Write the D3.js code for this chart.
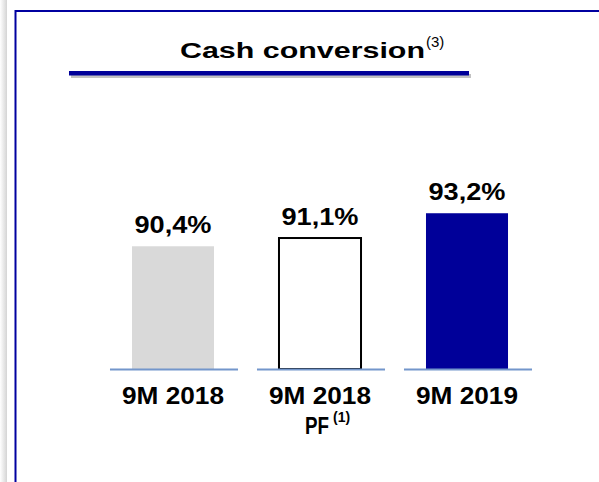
<!DOCTYPE html>
<html>
<head>
<meta charset="utf-8">
<script src="https://cdn.jsdelivr.net/npm/d3@7"></script>
<style>
  body { margin: 0; background: #fff; }
  text { font-family: "Liberation Sans", Arial, sans-serif; }
</style>
</head>
<body>
<svg id="chart" width="599" height="482"></svg>
<script>
// data
const categories = ['9M 2018', '9M 2018 PF', '9M 2019'];
const values = [90.4, 91.1, 93.2];
const valueLabels = ['90,4%', '91,1%', '93,2%'];
const catLines = [['9M 2018'], ['9M 2018', 'PF'], ['9M 2019']];
const catNotes = ['', '(1)', ''];
const fills = ['#d9d9d9', '#ffffff', '#000099'];
const strokes = ['none', '#000000', 'none'];

const svg = d3.select('#chart');
const defs = svg.append('defs');

// grey shadow on the left of the frame
const grad = defs.append('linearGradient').attr('id', 'lshade');
grad.append('stop').attr('offset', '0%').attr('stop-color', '#ffffff');
grad.append('stop').attr('offset', '100%').attr('stop-color', '#d4d4d4');
svg.append('rect').attr('x', 0).attr('y', 0).attr('width', 7).attr('height', 482)
  .attr('fill', 'url(#lshade)');

// frame
svg.append('rect').attr('x', 7).attr('y', 0).attr('width', 592).attr('height', 482).attr('fill', '#fff');
svg.append('path')
  .attr('d', 'M15.5,482 V11 H599')
  .attr('fill', 'none').attr('stroke', '#0000a0').attr('stroke-width', 2);

// title
const title = svg.append('text')
  .attr('x', 180).attr('y', 58)
  .attr('font-size', 22).attr('font-weight', 'bold').attr('fill', '#000');
title.append('tspan').text('Cash conversion')
  .attr('textLength', 245).attr('lengthAdjust', 'spacingAndGlyphs');
title.append('tspan').text('(3)').attr('font-size', 15).attr('font-weight', 'normal')
  .attr('dy', -11).attr('dx', 1);

// title underline with shadow
svg.append('rect').attr('x', 71).attr('y', 74).attr('width', 400).attr('height', 4)
  .attr('fill', '#9a9a9a').attr('opacity', 0.6);
svg.append('rect').attr('x', 69).attr('y', 71).attr('width', 400).attr('height', 4.5)
  .attr('fill', '#000099');

// scales
const x = d3.scaleBand().domain(categories).range([99.5, 540.5])
  .paddingInner(0.442).paddingOuter(0.221);
const y = d3.scaleLinear().domain([80, 95]).range([369, 192]);

const g = svg.append('g');

// bars
g.selectAll('rect.bar').data(categories).enter().append('rect')
  .attr('class', 'bar')
  .attr('x', d => x(d))
  .attr('y', (d, i) => y(values[i]))
  .attr('width', x.bandwidth())
  .attr('height', (d, i) => y(80) - y(values[i]))
  .attr('fill', (d, i) => fills[i])
  .attr('stroke', (d, i) => strokes[i])
  .attr('stroke-width', 2);

// baseline pieces under each bar
g.selectAll('line.base').data(categories).enter().append('line')
  .attr('class', 'base')
  .attr('x1', d => x(d) - 22)
  .attr('x2', d => x(d) + x.bandwidth() + 24)
  .attr('y1', y(80) + 0.5).attr('y2', y(80) + 0.5)
  .attr('stroke', '#7396cb').attr('stroke-width', 2);

// value labels
g.selectAll('text.val').data(categories).enter().append('text')
  .attr('class', 'val')
  .attr('x', d => x(d) + x.bandwidth() / 2)
  .attr('y', (d, i) => y(values[i]) - 13)
  .attr('text-anchor', 'middle')
  .attr('font-size', 23).attr('font-weight', 'bold')
  .attr('textLength', 77).attr('lengthAdjust', 'spacingAndGlyphs')
  .text((d, i) => valueLabels[i]);

// category labels
categories.forEach(function (c, i) {
  const cx = x(c) + x.bandwidth() / 2;
  catLines[i].forEach(function (line, j) {
    const t = g.append('text')
      .attr('y', 404 + j * 30)
      .attr('font-size', 23).attr('font-weight', 'bold');
    if (j === 0) {
      t.attr('x', cx).attr('text-anchor', 'middle')
        .attr('textLength', 102).attr('lengthAdjust', 'spacingAndGlyphs')
        .text(line);
    } else {
      t.attr('x', cx - 15);
      t.append('tspan').text(line)
        .attr('textLength', 24).attr('lengthAdjust', 'spacingAndGlyphs');
      if (catNotes[i]) {
        t.append('tspan').text(catNotes[i])
          .attr('font-size', 14).attr('dx', 4).attr('dy', -12);
      }
    }
  });
});
</script>
</body>
</html>
